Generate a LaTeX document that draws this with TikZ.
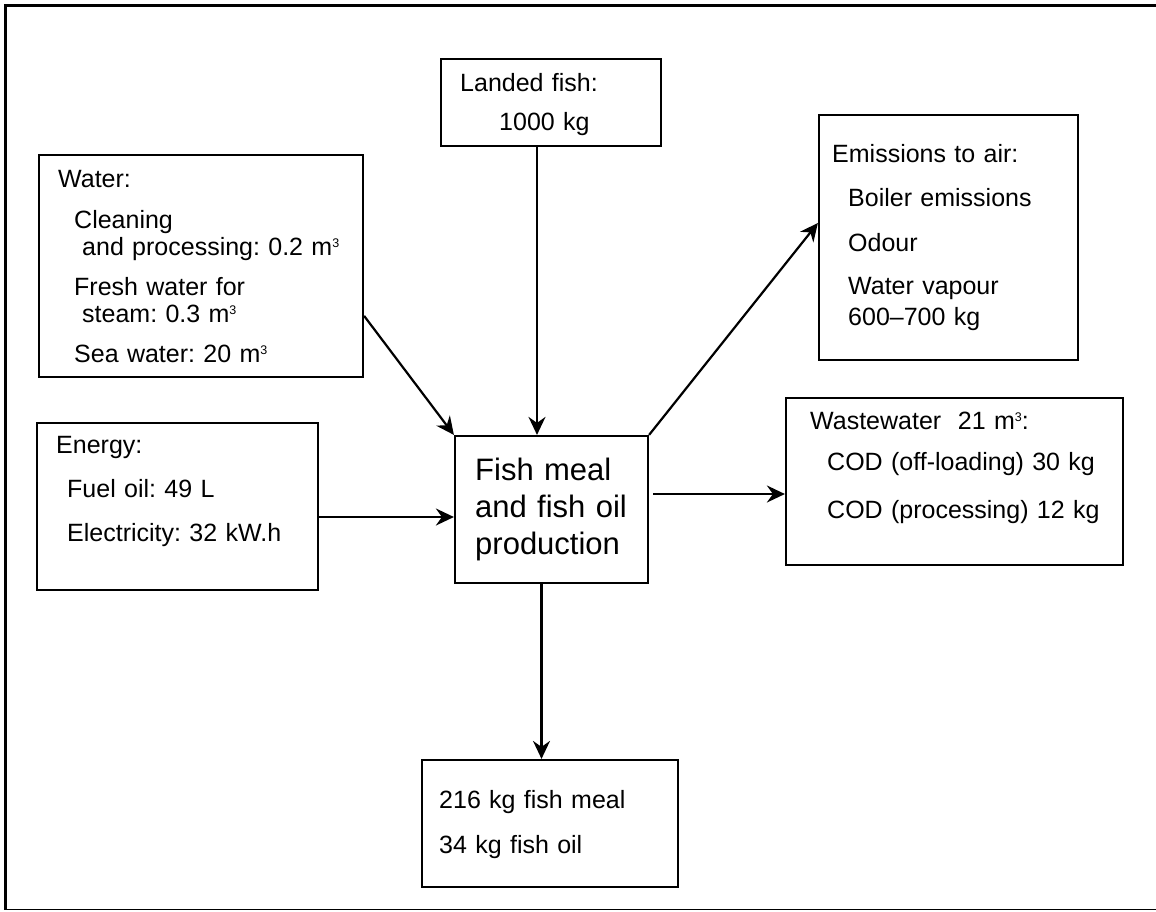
\documentclass[tikz,border=0pt]{standalone}
\usepackage{fontspec}
\setmainfont{Liberation Sans}
\usetikzlibrary{arrows.meta,fit}
\newcommand{\mcube}{m\raisebox{8pt}{\fontsize{12.5}{12.5}\selectfont 3}}
\frenchspacing

\begin{document}
\begin{tikzpicture}[x=1pt, y=-1pt,
		box/.style={draw, line width=2.2pt, inner sep=0pt},
		txt/.style={anchor=base west, inner sep=0pt, align=left, text width=330pt, font=\fontsize{25}{27}\selectfont},
		flow/.style={line width=2.2pt, -{Stealth[length=18pt, width=17pt, inset=6pt]}}]
	\useasboundingbox (0,0) rectangle (1156,911);
	%frame
	\draw[line width=3pt] (1156,5.5) -- (5.5,5.5) -- (5.5,909.5);
	\draw[line width=1.5pt] (5.5,909.5) -- (1156,909.5);
	
	%boxes
	\node[box, fit={(39,155) (363,377)}] (water) {};
	\node[box, fit={(441,59) (661,146)}] (landed) {};
	\node[box, fit={(819,115) (1078,360)}] (emis) {};
	\node[box, fit={(455,436) (648,583)}] (plant) {};
	\node[box, fit={(786,398) (1123,565)}] (waste) {};
	\node[box, fit={(37,423) (318,590)}] (energy) {};
	\node[box, fit={(422,760) (678,887)}] (product) {};
	
	%texts
	\node[txt] (watertxt) at (58,187) {Water:\\[14pt]
		\hspace*{16pt}Cleaning\\
		\hspace*{24pt}and processing: 0.2 \mcube\\[13pt]
		\hspace*{16pt}Fresh water for\\
		\hspace*{24pt}steam: 0.3 \mcube\\[13pt]
		\hspace*{16pt}Sea water: 20 \mcube};
	\node[txt] (landedtxt) at (460,91) {Landed fish:\\[12pt]
		\hspace*{39pt}1000 kg};
	\node[txt] (emistxt) at (832,162) {Emissions to air:\\[17pt]
		\hspace*{16pt}Boiler emissions\\[18pt]
		\hspace*{16pt}Odour\\[16pt]
		\hspace*{16pt}Water vapour\\[4pt]
		\hspace*{16pt}600–700 kg};
	\node[txt] (wastetxt) at (810,429) {Wastewater\ \ 21 \mcube:\\[14pt]
		\hspace*{17pt}COD (off-loading) 30 kg\\[21pt]
		\hspace*{17pt}COD (processing) 12 kg};
	\node[txt] (energytxt) at (56,453) {Energy:\\[17pt]
		\hspace*{11pt}Fuel oil: 49 L\\[17pt]
		\hspace*{11pt}Electricity: 32 kW.h};
	\node[txt, font=\fontsize{31}{37}\selectfont] (planttxt) at (475,480) {Fish meal\\
		and fish oil\\
		production};
	\node[txt] (producttxt) at (439,808) {216 kg fish meal\\[18pt]
		34 kg fish oil};
	
	%flows
	\draw[flow] (water.-17.5) -- (plant.north west);
	\draw[flow] ([xshift=-14pt]landed.south) -- ([xshift=-14pt]landed.south |- plant.north);
	\draw[flow] ([yshift=-10.5pt]energy.east) -- ([yshift=-10.5pt]energy.east -| plant.west);
	\draw[flow] (plant.north east) -- ([yshift=14.5pt]emis.west);
	\draw[flow] ([xshift=4pt, yshift=15.5pt]plant.east) -- ([yshift=15.5pt]plant.east -| waste.west);
	\draw[flow] ([xshift=-10pt]plant.south) -- ([xshift=-10pt]plant.south |- product.north);
\end{tikzpicture}
\end{document}
